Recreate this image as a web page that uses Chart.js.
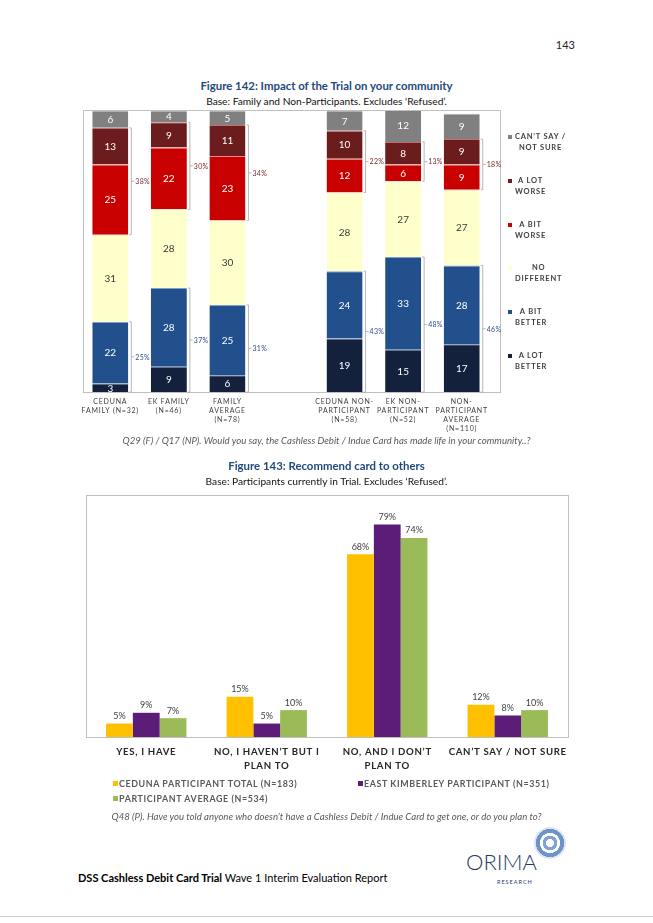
<!DOCTYPE html>
<html>
<head>
<meta charset="utf-8">
<script src="https://cdn.jsdelivr.net/npm/chart.js@4.4.1/dist/chart.umd.min.js"></script>
<style>
html, body { margin: 0; padding: 0; background: #fff; }
body { width: 653px; height: 923px; position: relative; overflow: hidden; font-family: Lato, "Open Sans", sans-serif; color: #000; }
.t { position: absolute; white-space: nowrap; line-height: 14px; }
.c { left: 0; width: 653px; text-align: center; }
.fig { font-weight: bold; font-size: 11.4px; color: #1f497d; }
.base { font-size: 10.2px; color: #111; }
.cap { font-style: italic; font-size: 9.6px; color: #595959; }
.box { position: absolute; }
.lg1 { position: absolute; font-size: 7.5px; font-weight: bold; color: #404040; letter-spacing: 0.8px; line-height: 11px; white-space: nowrap; }
.lg1 .sq { position: absolute; left: 0; top: 4px; width: 4px; height: 4px; }
.lg1 .txt { position: absolute; left: 7px; top: 0; text-align: center; white-space: nowrap; }
.lg2 { position: absolute; font-size: 8.9px; font-weight: bold; color: #595959; letter-spacing: 0.6px; line-height: 12px; white-space: nowrap; }
.lg2 .sq { display: inline-block; width: 5px; height: 5px; margin-right: 1px; vertical-align: 1px; }
</style>
</head>
<body>
<div class="t" style="right:78px; top:38px; font-size:11px; color:#222;">143</div>

<div class="t c fig" style="top:79px;">Figure 142: Impact of the Trial on your community</div>
<div class="t c base" style="top:94px;">Base: Family and Non-Participants. Excludes ‘Refused’.</div>
<div class="box" style="left:75px; top:106px; width:515px; height:340px;"><canvas id="impactChart"></canvas></div>
<div id="legend1"></div>
<div class="t c cap" style="top:434px;">Q29 (F) / Q17 (NP). Would you say, the Cashless Debit / Indue Card has made life in your community..?</div>

<div class="t c fig" style="top:459px;">Figure 143: Recommend card to others</div>
<div class="t c base" style="top:474px;">Base: Participants currently in Trial. Excludes ‘Refused’.</div>
<div class="box" style="left:80px; top:490px; width:500px; height:290px;"><canvas id="recommendChart"></canvas></div>
<div id="legend2"></div>
<div class="t c cap" style="top:810px;">Q48 (P). Have you told anyone who doesn’t have a Cashless Debit / Indue Card to get one, or do you plan to?</div>

<div class="t" style="left:78px; top:871px; font-size:11px;"><b>DSS Cashless Debit Card Trial</b> Wave 1 Interim Evaluation Report</div>
<div class="t" style="left:466px; top:850px; font-size:22px; line-height:24px; color:#1f3864; font-weight:300;">ORIMA</div>
<div class="t" style="left:497px; top:878px; font-size:5.5px; line-height:8px; color:#1f3864; letter-spacing:1px;">RESEARCH</div>
<div style="position:absolute; left:534px; top:827px; width:32px; height:32px; border-radius:50%; background:radial-gradient(circle, #ffffff 0 18%, #7fa3d2 19% 32%, #ffffff 33% 44%, #6d93c8 45% 62%, #dbe6f3 63% 72%, #9ab7dc 73% 100%);"></div>
<div style="position:absolute; left:0; top:916px; width:653px; height:1px; background:#d0d0d0;"></div>

<script>
// Figure 142 - impacto na comunidade (valores em %)
const famCategories = [
    ['CEDUNA', 'FAMILY (N=32)'],
    ['EK FAMILY', '(N=46)'],
    ['FAMILY', 'AVERAGE', '(N=78)'],
    '',
    ['CEDUNA NON-', 'PARTICIPANT', '(N=58)'],
    ['EK NON-', 'PARTICIPANT', '(N=52)'],
    ['NON-', 'PARTICIPANT', 'AVERAGE', '(N=110)']
];
const aLotBetter = [3, 9, 6, null, 19, 15, 17];
const aBitBetter = [22, 28, 25, null, 24, 33, 28];
const noDifferent = [31, 28, 30, null, 28, 27, 27];
const aBitWorse = [25, 22, 23, null, 12, 6, 9];
const aLotWorse = [13, 9, 11, null, 10, 8, 9];
const cantSay = [6, 4, 5, null, 7, 12, 9];
const worseNet = ['38%', '30%', '34%', null, '22%', '13%', '18%'];
const betterNet = ['25%', '37%', '31%', null, '43%', '48%', '46%'];
const impactNames = [['A LOT', 'BETTER'], ['A BIT', 'BETTER'], ['NO', 'DIFFERENT'], ['A BIT', 'WORSE'], ['A LOT', 'WORSE'], ['CAN’T SAY /', 'NOT SURE']];
const impactColours = ['#13213d', '#22508c', '#ffffcc', '#c80000', '#6b1d1d', '#808080'];
const impactEdges = ['#5a6f95', '#7fa0cc', '#e6e6c8', '#f08a8a', '#c07070', '#b0b0b0'];

// Figure 143 - recomendar o cartão (valores em %)
const recCategories = ['YES, I HAVE', ['NO, I HAVEN’T BUT I', 'PLAN TO'], ['NO, AND I DON’T', 'PLAN TO'], 'CAN’T SAY / NOT SURE'];
const cedunaTotal = [5, 15, 68, 12];
const eastKimberley = [9, 5, 79, 8];
const participantAvg = [7, 10, 74, 10];
const recNames = ['CEDUNA PARTICIPANT TOTAL (N=183)', 'EAST KIMBERLEY PARTICIPANT (N=351)', 'PARTICIPANT AVERAGE (N=534)'];
const recColours = ['#ffc000', '#5c1d78', '#9bbb59'];

const impactSeries = [aLotBetter, aBitBetter, noDifferent, aBitWorse, aLotWorse, cantSay];
const recSeries = [cedunaTotal, eastKimberley, participantAvg];

// Plugin do gráfico 1: moldura, rótulos dos segmentos e chaves com totais
const impactPlugin = {
    id: 'impactExtras',
    beforeDraw(chart) {
        chart.ctx.letterSpacing = '0.8px';
    },
    beforeDatasetsDraw(chart) {
        const { ctx, chartArea: a } = chart;
        ctx.save();
        ctx.strokeStyle = '#bfbfbf';
        ctx.lineWidth = 1;
        ctx.strokeRect(Math.round(a.left + 2) + 0.5, Math.round(a.top - 1) + 0.5, Math.round(a.right - a.left + 7), Math.round(a.bottom - a.top + 1));
        ctx.restore();
    },
    afterDatasetsDraw(chart) {
        const ctx = chart.ctx;
        ctx.save();
        ctx.letterSpacing = '0px';
        ctx.font = '10px Lato';
        ctx.textAlign = 'center';
        ctx.textBaseline = 'middle';
        chart.data.datasets.forEach((ds, i) => {
            const meta = chart.getDatasetMeta(i);
            meta.data.forEach((el, j) => {
                const v = ds.data[j];
                if (v == null) return;
                ctx.fillStyle = i === 2 ? '#3a3a3a' : '#ffffff';
                ctx.fillText(String(v), el.x, (el.y + el.base) / 2 + 0.5);
            });
        });

        const bracket = (topEl, botEl, text, colour) => {
            const x0 = topEl.x + topEl.width / 2 + 1;
            const xl = x0 + 2;
            const yTop = topEl.y;
            const yBot = botEl.base;
            const ym = (yTop + yBot) / 2;
            ctx.strokeStyle = '#a6a6a6';
            ctx.lineWidth = 0.8;
            ctx.beginPath();
            ctx.moveTo(x0, yTop); ctx.lineTo(xl, yTop); ctx.lineTo(xl, yBot); ctx.lineTo(x0, yBot);
            ctx.moveTo(xl, ym); ctx.lineTo(xl + 3, ym);
            ctx.stroke();
            ctx.fillStyle = colour;
            ctx.font = '7px Lato';
            ctx.letterSpacing = '0.3px';
            ctx.textAlign = 'left';
            ctx.fillText(text, xl + 4, ym + 0.5);
        };
        const mBetterLot = chart.getDatasetMeta(0).data;
        const mBetterBit = chart.getDatasetMeta(1).data;
        const mWorseBit = chart.getDatasetMeta(3).data;
        const mWorseLot = chart.getDatasetMeta(4).data;
        worseNet.forEach((txt, j) => {
            if (txt == null) return;
            bracket(mWorseLot[j], mWorseBit[j], txt, '#7a2a2a');
            bracket(mBetterBit[j], mBetterLot[j], betterNet[j], '#2f4f8a');
        });
        ctx.restore();
    }
};

new Chart(document.getElementById('impactChart'), {
    type: 'bar',
    data: {
        labels: famCategories,
        datasets: impactSeries.map((d, i) => ({
            label: impactNames[i].join(' '),
            data: d,
            backgroundColor: impactColours[i],
            borderColor: impactEdges[i],
            borderWidth: { top: 1, right: 0, bottom: 0, left: 0 },
            borderSkipped: false,
            barPercentage: 0.615,
            categoryPercentage: 1
        }))
    },
    options: {
        responsive: true,
        maintainAspectRatio: false,
        animation: false,
        layout: { padding: { top: 5, left: 6, right: 99, bottom: 0 } },
        plugins: { legend: { display: false }, tooltip: { enabled: false } },
        scales: {
            x: {
                stacked: true,
                grid: { display: false, drawTicks: false },
                border: { display: false },
                ticks: {
                    font: { family: 'Lato', size: 7, lineHeight: 1.3 },
                    color: '#404040',
                    padding: 5,
                    maxRotation: 0,
                    autoSkip: false
                },
                afterFit(scale) { scale.height = 54; }
            },
            y: { stacked: true, display: false, min: 0, max: 100 }
        }
    },
    plugins: [impactPlugin]
});

// Legenda do gráfico 1 (ordem invertida, de cima para baixo)
const legend1 = document.getElementById('legend1');
for (let k = 0; k < impactNames.length; k++) {
    const i = impactNames.length - 1 - k;
    const item = document.createElement('div');
    item.className = 'lg1';
    item.style.left = '508px';
    item.style.top = (131 + k * 43.8) + 'px';
    item.innerHTML = '<span class="sq" style="background:' + impactColours[i] + '"></span>' +
        '<div class="txt">' + impactNames[i].join('<br>') + '</div>';
    legend1.appendChild(item);
}

// Plugin do gráfico 2: moldura e rótulos de percentagem
const recPlugin = {
    id: 'recExtras',
    beforeDraw(chart) {
        chart.ctx.letterSpacing = '0.7px';
    },
    beforeDatasetsDraw(chart) {
        const { ctx, chartArea: a } = chart;
        ctx.save();
        ctx.strokeStyle = '#bfbfbf';
        ctx.lineWidth = 1;
        ctx.strokeRect(Math.round(a.left) + 0.5, Math.round(a.top) + 0.5, Math.round(a.right - a.left), Math.round(a.bottom - a.top));
        ctx.restore();
    },
    afterDatasetsDraw(chart) {
        const ctx = chart.ctx;
        ctx.save();
        ctx.letterSpacing = '0px';
        ctx.font = '9px Lato';
        ctx.fillStyle = '#404040';
        ctx.textAlign = 'center';
        ctx.textBaseline = 'bottom';
        chart.data.datasets.forEach((ds, i) => {
            chart.getDatasetMeta(i).data.forEach((el, j) => {
                ctx.fillText(ds.data[j] + '%', el.x, el.y - 3);
            });
        });
        ctx.restore();
    }
};

new Chart(document.getElementById('recommendChart'), {
    type: 'bar',
    data: {
        labels: recCategories,
        datasets: recSeries.map((d, i) => ({
            label: recNames[i],
            data: d,
            backgroundColor: recColours[i],
            barPercentage: 1,
            categoryPercentage: 0.667
        }))
    },
    options: {
        responsive: true,
        maintainAspectRatio: false,
        animation: false,
        layout: { padding: { top: 5, left: 6, right: 12, bottom: 0 } },
        plugins: { legend: { display: false }, tooltip: { enabled: false } },
        scales: {
            x: {
                grid: { display: false, drawTicks: false },
                border: { display: false },
                ticks: {
                    font: { family: 'Lato', size: 9.6, weight: 'bold', lineHeight: 1.45 },
                    color: '#262626',
                    padding: 8,
                    maxRotation: 0,
                    autoSkip: false
                },
                afterFit(scale) { scale.height = 43; }
            },
            y: { display: false, min: 0, max: 90 }
        }
    },
    plugins: [recPlugin]
});

// Legenda do gráfico 2
const legend2 = document.getElementById('legend2');
const legend2Pos = [[113, 778], [358, 778], [113, 793]];
recNames.forEach((name, i) => {
    const item = document.createElement('div');
    item.className = 'lg2';
    item.style.left = legend2Pos[i][0] + 'px';
    item.style.top = legend2Pos[i][1] + 'px';
    item.innerHTML = '<span class="sq" style="background:' + recColours[i] + '"></span>' + name;
    legend2.appendChild(item);
});
</script>
</body>
</html>
